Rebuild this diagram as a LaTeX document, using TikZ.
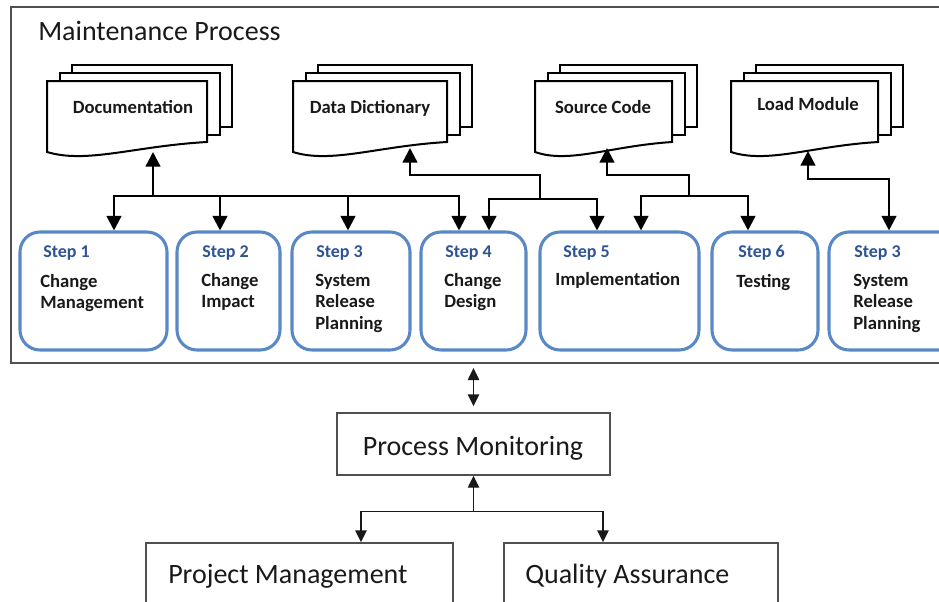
\documentclass[tikz,border=0pt]{standalone}
\usepackage{fontspec}
\setmainfont{Carlito}
\usetikzlibrary{arrows.meta,fit,calc}
\definecolor{stepblue}{RGB}{88,137,198}
\definecolor{labelblue}{RGB}{46,84,150}
\definecolor{framegray}{RGB}{80,80,80}
\definecolor{ink}{RGB}{25,25,25}
% #1 L, #2 R, #3 text x, #4 text baseline y, #5 name, #6 text
\newcommand{\mydocstack}[6]{%
  \draw[page] (#1+25,65) rectangle (#2+25,127);
  \draw[page] (#1+12.5,73) rectangle (#2+12.5,135);
  \draw[page] (#1,81) -- (#2,81) -- (#2,142)
     .. controls ({0.45*#1+0.55*#2},146) and ({0.75*#1+0.25*#2},164) .. (#1,152) -- cycle;
  \node[doctext] (#5) at (#3,#4) {#6};
}
\begin{document}
\begin{tikzpicture}[x=0.75pt,y=-0.75pt,
  page/.style={draw=black, line width=1.5pt, fill=white, line join=miter},
  stepbox/.style={draw=stepblue, line width=2.3pt, rounded corners=15pt, inner sep=0pt},
  arr/.style={draw=black, line width=1.8pt, -{Triangle[length=11pt,width=11pt]}},
  biarr/.style={draw=black, line width=1.8pt, {Triangle[length=11pt,width=11pt]}-{Triangle[length=11pt,width=11pt]}},
  thinarr/.style={draw=ink, line width=1.1pt, -{Triangle[length=9pt,width=8.5pt]}},
  thinbiarr/.style={draw=ink, line width=1.1pt, {Triangle[length=9pt,width=8.5pt]}-{Triangle[length=9pt,width=8.5pt]}},
  lbl/.style={anchor=base west, inner sep=0pt, font=\fontsize{13.5}{16}\selectfont\bfseries, text=labelblue},
  body/.style={anchor=base west, inner sep=0pt, font=\fontsize{14}{16}\selectfont\bfseries, text=ink},
  doctext/.style={anchor=base, inner sep=0pt, font=\fontsize{14}{16}\selectfont\bfseries, text=ink},
  big/.style={anchor=base west, inner sep=0pt, font=\fontsize{21}{25}\selectfont, text=ink},
  plainbox/.style={draw=framegray, line width=1.1pt, inner sep=0pt}]
\useasboundingbox (0,0) rectangle (939,601);
\clip (0,0) rectangle (939,601);

% outer frame
\node[fit={(11,7) (960,363)}, draw=framegray, line width=1.5pt, inner sep=0pt] (mp) {};
\node[big] (title) at (38,40) {Maintenance Process};

% document stacks
\mydocstack{47}{207}{133}{113}{doc1}{Documentation}
\mydocstack{293}{447}{370}{113}{doc2}{Data Dictionary}
\mydocstack{535}{672}{603}{113}{doc3}{Source Code}
\mydocstack{731}{878}{808}{110}{doc4}{Load Module}
\coordinate (d1tip) at (153,152);
\coordinate (d2tip) at (410,148);
\coordinate (d3tip) at (607,148);
\coordinate (d4tip) at (808,151);

% step boxes
\node[fit={(20,232) (167,350)}, stepbox] (s1) {};
\node[fit={(177,232) (280,350)}, stepbox] (s2) {};
\node[fit={(292,232) (410,350)}, stepbox] (s3) {};
\node[fit={(421,232) (526,350)}, stepbox] (s4) {};
\node[fit={(540,232) (699,350)}, stepbox] (s5) {};
\node[fit={(712,232) (818,350)}, stepbox] (s6) {};
\node[fit={(829,232) (960,350)}, stepbox] (s7) {};

\node[lbl] (s1l) at (43,257) {Step 1};
\node[body] (s1a) at (40,287) {Change};
\node[body] (s1b) at (40,308.5) {Management};
\node[lbl] (s2l) at (202,257) {Step 2};
\node[body] (s2a) at (201,286) {Change};
\node[body] (s2b) at (201,307.5) {Impact};
\node[lbl] (s3l) at (316,257) {Step 3};
\node[body] (s3a) at (315,286) {System};
\node[body] (s3b) at (315,307.5) {Release};
\node[body] (s3c) at (315,329) {Planning};
\node[lbl] (s4l) at (445,257) {Step 4};
\node[body] (s4a) at (444,286) {Change};
\node[body] (s4b) at (444,307.5) {Design};
\node[lbl] (s5l) at (563,257) {Step 5};
\node[body] (s5a) at (555,285) {Implementation};
\node[lbl] (s6l) at (738,257) {Step 6};
\node[body] (s6a) at (736,287) {Testing};
\node[lbl] (s7l) at (854,257) {Step 3};
\node[body] (s7a) at (853,286) {System};
\node[body] (s7b) at (853,307.5) {Release};
\node[body] (s7c) at (853,329) {Planning};

% connectors: Documentation
\coordinate (j1) at (153,196);
\draw[arr] (j1) -- (d1tip);
\draw[arr] (j1) -| (s1.north -| 114,0);
\draw[arr] (j1) -| (s2.north -| 220,0);
\draw[arr] (j1) -| (s3.north -| 348,0);
\draw[arr] (j1) -| (s4.north -| 459,0);
% Data Dictionary
\coordinate (j2) at (540,199);
\draw[arr] (j2) -- (540,175) -| (d2tip);
\draw[arr] (j2) -| (s4.north -| 489,0);
\draw[arr] (j2) -| (s5.north -| 597,0);
% Source Code
\coordinate (j3) at (689,196);
\draw[arr] (j3) -- (689,175) -| (d3tip);
\draw[arr] (j3) -| (s5.north -| 641,0);
\draw[arr] (j3) -| (s6.north -| 748,0);
% Load Module
\draw[biarr] (d4tip) -- (808,179) -| (s7.north -| 889,0);

% lower part
\node[fit={(337,413) (610,475)}, plainbox] (pm) {};
\node[big, anchor=base] (pmt) at (473,455) {Process Monitoring};
\node[fit={(146,543) (453,640)}, plainbox] (pjm) {};
\node[big] (pjmt) at (168,583) {Project Management};
\node[fit={(504,543) (778,640)}, plainbox] (qa) {};
\node[big] (qat) at (525,583) {Quality Assurance};

\draw[thinbiarr] ([yshift=-3pt]mp.south -| pm.north) -- ([yshift=4.5pt]pm.north);
\coordinate (j5) at ($(pm.south)+(0,36)$);
\draw[thinarr] (j5) -- (pm.south);
\draw[thinarr] (j5) -| (pjm.north -| 361,0);
\draw[thinarr] (j5) -| (qa.north -| 603,0);
\end{tikzpicture}
\end{document}
